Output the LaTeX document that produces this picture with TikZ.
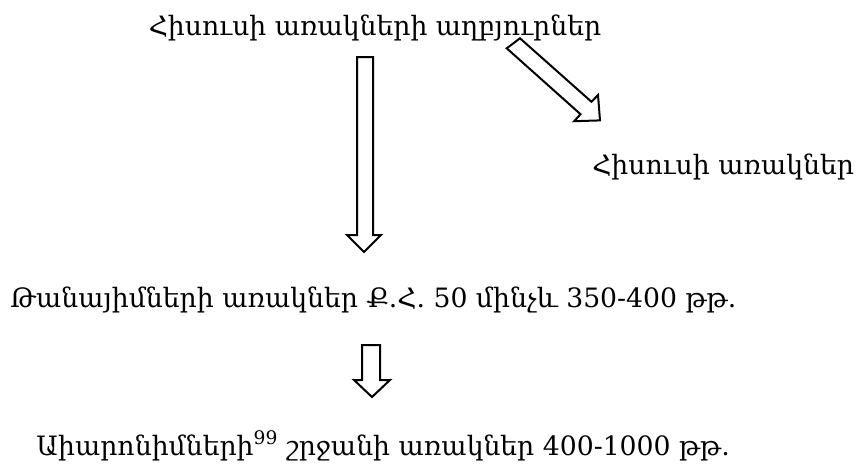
\documentclass[tikz,border=0pt]{standalone}
\usepackage{fontspec}
\setmainfont{DejaVu Serif}
\usetikzlibrary{positioning}

\begin{document}
\begin{tikzpicture}[x=0.75pt,y=-0.75pt,
% Text style
    txt/.style={inner sep=0pt,font=\fontsize{20}{24}\selectfont},
% Block arrow style
    hollow/.style={draw=black,line width=1.5pt,line join=miter,fill=white}
    ]
\useasboundingbox (0,0) rectangle (868,468);
%% Texts
\node[txt,anchor=base] (src) at (375,35) {Հիսուսի առակների աղբյուրներ};
\node[txt,anchor=base west] (jes) at (592,174) {Հիսուսի առակներ};
\node[txt,anchor=base west] (tan) at (10,307) {Թանայիմների առակներ Ք.Հ. 50 մինչև 350-400 թթ.};
\node[txt,anchor=base east] (amo) at (730,455) {Աիարոնիմների\textsuperscript{99} շրջանի առակներ 400-1000 թթ.};
%% Block arrows
\draw[hollow] (357,57) -- (373,57) -- (373,235) -- (381,235) -- (364,252)
   -- (347,235) -- (357,235) -- cycle;
\draw[hollow] (520,38.3) -- (591.5,101.8) -- (598,95) -- (600,120.4)
   -- (574.2,121.2) -- (580.5,114.2) -- (506.7,48.3) -- cycle;
\draw[hollow] (362,345) -- (380,345) -- (380,380) -- (390,380) -- (372,397)
   -- (354,380) -- (362,380) -- cycle;
\end{tikzpicture}
\end{document}
